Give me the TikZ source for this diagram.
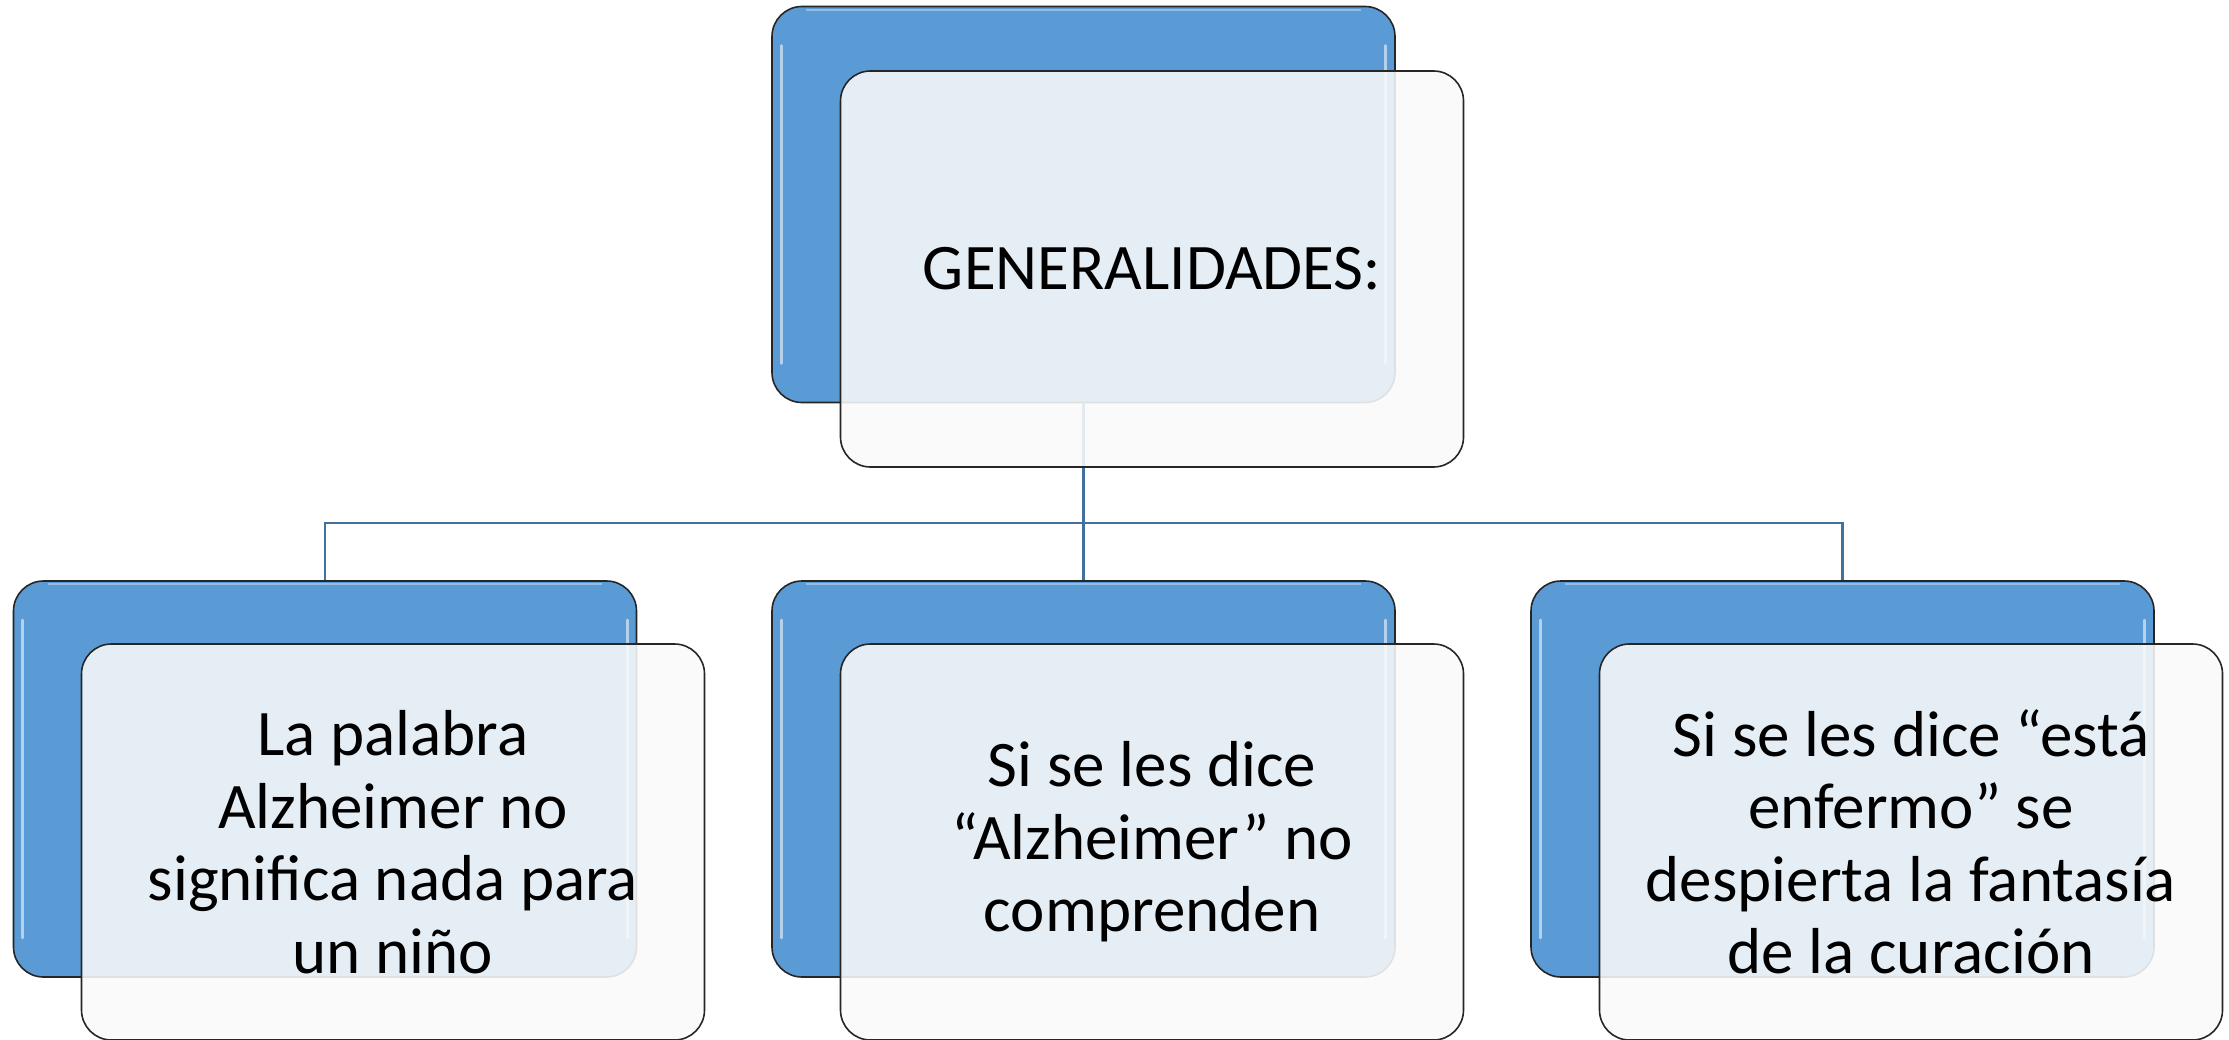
\documentclass[tikz,border=0pt]{standalone}
\usepackage{fontspec}
\setmainfont{Carlito}
\definecolor{boxblue}{HTML}{5B9BD5}
\definecolor{connblue}{HTML}{41719C}
\definecolor{frontfill}{HTML}{FAFAFA}
\begin{document}
\begin{tikzpicture}[x=1pt,y=-1pt,
  backbox/.style={draw=black!85, line width=1.6pt, rounded corners=30pt, fill=boxblue,
    minimum width=623pt, minimum height=396pt, inner sep=0pt},
  frontbox/.style={draw=black!85, line width=1.6pt, rounded corners=30pt, fill=frontfill, fill opacity=0.88, text opacity=1,
    minimum width=623pt, minimum height=396pt, inner sep=0pt, align=center,
    font=\fontsize{65}{72.5}\selectfont},
  conn/.style={draw=connblue, line width=2.2pt},
  gloss/.style={draw=white, line width=3pt, opacity=0.55, line cap=round}]
\useasboundingbox (0,0) rectangle (2229,1040);
\fill[white] (0,0) rectangle (2229,1040);
% back boxes
\node[backbox] (b0) at (1083.5,204.5) {};
\node[backbox] (b1) at (325,779) {};
\node[backbox] (b2) at (1083.5,779) {};
\node[backbox] (b3) at (1842.5,779) {};
% connectors
\coordinate (hub) at (1083.5,523);
\draw[conn] (b0.south) -- (hub);
\draw[conn] (hub) -| (b1.north);
\draw[conn] (hub) -- (b2.north);
\draw[conn] (hub) -| (b3.north);
% gloss highlights
\foreach \b in {b0,b1,b2,b3}{
  \draw[gloss] ([xshift=10pt,yshift=-40pt]\b.north west) -- ([xshift=10pt,yshift=40pt]\b.south west);
  \draw[gloss] ([xshift=-10pt,yshift=-40pt]\b.north east) -- ([xshift=-10pt,yshift=40pt]\b.south east);
  \draw[white, line width=2pt, opacity=0.35] ([xshift=35pt,yshift=-4pt]\b.north west) -- ([xshift=-35pt,yshift=-4pt]\b.north east);
}
% front boxes
\node[frontbox] (f0) at (1152,269) {GENERALIDADES:};
\node[frontbox] (f1) at (393,842) {La palabra\\Alzheimer no\\significa nada para\\un niño};
\node[frontbox] (f2) at (1152,842) {Si se les dice\\“Alzheimer” no\\comprenden};
\node[frontbox] (f3) at (1911,842) {Si se les dice “está\\enfermo” se\\despierta la fantasía\\de la curación};
\end{tikzpicture}
\end{document}
